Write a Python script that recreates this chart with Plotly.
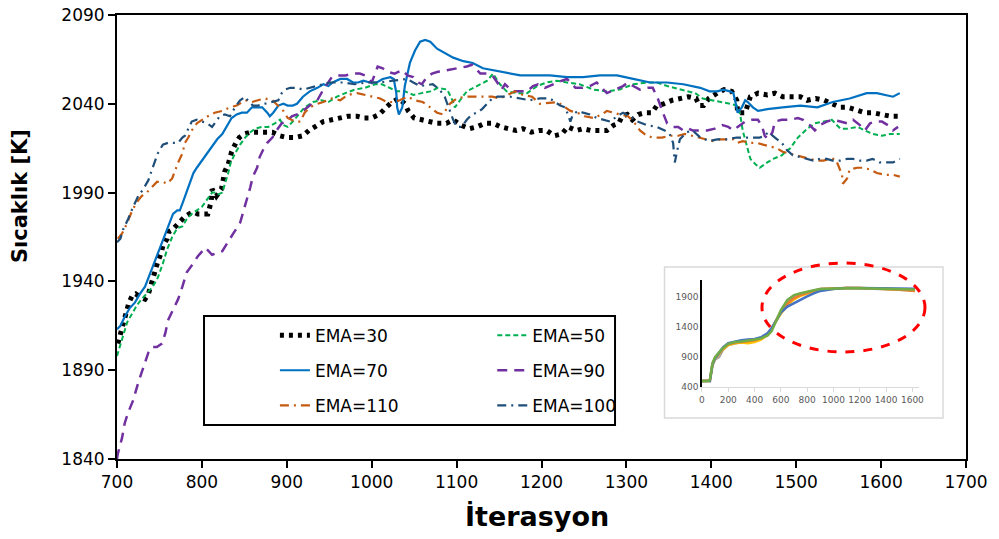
import plotly.graph_objects as go

# ---------------- main data ----------------
x30 = [701,704,708,712,714,718,722,728,733,737,740,742,746,748,752,754,759,761,765,769,774,779,785,790,795,801,807,811,812,817,823,825,827,831,833,835,840,844,850,857,865,874,883,892,900,910,919,926,934,943,953,963,972,983,991,1000,1009,1017,1024,1032,1039,1043,1050,1059,1068,1077,1088,1096,1105,1115,1124,1133,1143,1152,1161,1170,1178,1188,1197,1206,1215,1224,1231,1241,1249,1258,1268,1277,1285,1291,1295,1301,1307,1314,1322,1330,1336,1344,1354,1363,1373,1382,1386,1391,1397,1407,1415,1424,1430,1431,1436,1440,1446,1455,1466,1475,1484,1495,1505,1513,1523,1533,1543,1552,1561,1572,1581,1590,1601,1611,1621]
y30 = [1905,1910,1919,1924,1928,1932,1933,1931,1930,1933,1938,1942,1947,1951,1956,1960,1964,1968,1969,1971,1973,1976,1978,1979,1978,1978,1978,1985,1992,1988,1992,1997,2002,2006,2010,2013,2018,2021,2023,2024,2024,2024,2024,2022,2021,2021,2022,2025,2027,2030,2031,2032,2033,2033,2032,2032,2034,2038,2041,2043,2040,2036,2032,2031,2030,2029,2029,2031,2028,2026,2027,2029,2029,2027,2026,2025,2026,2024,2025,2025,2022,2023,2027,2025,2026,2025,2025,2025,2028,2029,2033,2034,2031,2034,2035,2035,2039,2040,2042,2043,2044,2043,2039,2039,2043,2046,2048,2047,2042,2035,2035,2035,2044,2046,2045,2046,2044,2044,2044,2042,2043,2042,2040,2038,2038,2036,2035,2035,2034,2033,2033]

x50 = [700,706,712,718,724,729,735,742,748,754,759,765,771,777,782,788,794,800,806,812,815,819,824,826,831,834,839,845,851,857,863,871,878,886,892,896,901,907,912,921,931,941,949,959,969,980,992,1004,1012,1022,1030,1039,1049,1059,1069,1078,1089,1095,1098,1104,1112,1124,1136,1143,1151,1159,1171,1183,1195,1206,1218,1230,1245,1261,1277,1292,1308,1324,1336,1348,1363,1381,1390,1402,1410,1422,1430,1434,1437,1442,1446,1452,1457,1466,1473,1483,1493,1502,1513,1522,1532,1542,1546,1552,1561,1572,1581,1590,1601,1611,1622]
y50 = [1898,1907,1917,1922,1927,1930,1933,1937,1942,1950,1958,1965,1970,1971,1975,1978,1980,1982,1986,1990,1990,1989,1990,1993,2001,2007,2012,2017,2021,2024,2026,2027,2027,2029,2031,2028,2027,2030,2033,2038,2041,2042,2041,2044,2046,2048,2049,2051,2051,2049,2047,2047,2045,2046,2047,2049,2048,2042,2038,2042,2047,2050,2053,2057,2051,2047,2046,2046,2050,2052,2053,2052,2051,2048,2047,2048,2051,2052,2052,2050,2048,2046,2043,2042,2041,2040,2039,2034,2025,2016,2009,2006,2004,2007,2009,2011,2015,2021,2026,2029,2030,2031,2029,2026,2026,2027,2025,2023,2022,2023,2023]

x70 = [700,704,709,715,721,727,733,737,741,745,748,751,757,762,766,771,774,778,782,786,790,794,800,806,812,818,824,830,835,841,847,853,859,865,871,877,880,884,890,896,901,907,912,919,927,936,943,949,954,963,971,978,984,990,998,1006,1013,1022,1026,1029,1030,1032,1036,1039,1045,1051,1057,1063,1069,1077,1084,1096,1108,1119,1131,1143,1155,1163,1175,1190,1210,1230,1249,1269,1289,1308,1328,1348,1367,1387,1398,1407,1414,1422,1426,1428,1430,1431,1436,1440,1443,1449,1455,1466,1484,1505,1525,1543,1563,1583,1595,1607,1614,1622]
y70 = [1913,1915,1920,1925,1928,1933,1937,1942,1947,1952,1956,1959,1967,1973,1978,1980,1980,1985,1990,1996,2001,2004,2008,2012,2016,2020,2023,2028,2032,2034,2035,2035,2038,2038,2038,2035,2033,2035,2039,2040,2039,2039,2040,2044,2047,2049,2051,2050,2052,2054,2054,2052,2052,2053,2052,2052,2054,2055,2054,2046,2038,2034,2038,2050,2063,2070,2075,2076,2075,2071,2069,2066,2064,2063,2060,2059,2058,2057,2056,2056,2056,2055,2055,2056,2056,2054,2052,2052,2051,2049,2047,2047,2048,2047,2046,2042,2038,2035,2038,2042,2041,2038,2036,2037,2038,2039,2038,2041,2043,2046,2046,2045,2044,2046]

x90 = [700,701,706,709,713,719,725,731,737,741,747,753,757,760,766,772,777,782,788,795,804,812,824,831,837,845,848,853,857,860,865,868,872,877,883,888,894,900,906,912,919,927,936,943,949,953,960,969,978,986,992,996,1000,1004,1007,1013,1019,1027,1036,1042,1049,1055,1059,1065,1071,1078,1089,1100,1112,1118,1122,1128,1136,1142,1148,1153,1157,1166,1175,1183,1190,1196,1204,1218,1224,1230,1234,1240,1248,1257,1265,1271,1277,1287,1296,1302,1308,1316,1325,1331,1337,1343,1348,1355,1361,1367,1373,1378,1387,1395,1404,1413,1420,1426,1431,1440,1448,1455,1460,1463,1467,1472,1475,1483,1493,1502,1508,1516,1522,1528,1536,1543,1552,1560,1567,1575,1581,1587,1593,1601,1608,1614,1620]
y90 = [1840,1843,1852,1860,1866,1873,1883,1892,1900,1903,1903,1905,1911,1918,1924,1930,1937,1945,1949,1954,1959,1955,1957,1962,1967,1973,1978,1985,1993,1999,2004,2010,2014,2018,2021,2025,2029,2030,2033,2034,2036,2039,2042,2048,2052,2055,2056,2056,2057,2057,2056,2054,2052,2057,2061,2060,2058,2057,2059,2056,2055,2052,2051,2055,2057,2058,2059,2060,2061,2062,2060,2057,2057,2056,2052,2048,2051,2047,2047,2047,2050,2051,2049,2052,2053,2054,2052,2049,2049,2050,2052,2049,2046,2048,2050,2052,2050,2048,2049,2049,2043,2035,2029,2027,2027,2025,2026,2025,2025,2025,2026,2028,2027,2025,2027,2030,2031,2031,2027,2022,2020,2024,2030,2031,2031,2032,2031,2028,2025,2028,2030,2031,2030,2029,2031,2028,2025,2029,2030,2030,2028,2025,2027]

x110 = [701,706,712,718,724,729,735,741,747,754,759,765,768,772,777,780,784,788,794,800,807,815,824,833,841,851,859,866,874,883,890,896,901,910,916,921,927,936,943,953,963,972,983,992,1002,1010,1018,1025,1033,1042,1051,1060,1069,1077,1084,1092,1100,1110,1122,1131,1142,1151,1161,1169,1178,1189,1198,1219,1228,1234,1242,1251,1261,1271,1277,1284,1292,1302,1310,1316,1324,1331,1342,1351,1361,1369,1377,1387,1395,1402,1410,1419,1426,1431,1437,1446,1454,1461,1469,1477,1484,1493,1501,1508,1516,1525,1532,1540,1546,1549,1554,1555,1560,1563,1572,1579,1587,1595,1605,1614,1622]
y110 = [1964,1967,1973,1980,1985,1988,1990,1993,1996,1996,1995,1998,2002,2007,2012,2018,2021,2025,2029,2031,2033,2035,2036,2038,2039,2042,2041,2042,2043,2042,2039,2036,2032,2030,2030,2035,2038,2040,2041,2043,2042,2045,2046,2045,2044,2043,2041,2041,2042,2044,2042,2041,2038,2035,2034,2040,2043,2044,2044,2044,2044,2043,2045,2047,2045,2044,2040,2041,2038,2036,2035,2033,2032,2034,2036,2035,2034,2033,2029,2025,2022,2021,2021,2022,2022,2023,2022,2021,2020,2019,2020,2020,2020,2018,2019,2018,2018,2017,2016,2015,2013,2012,2011,2010,2009,2008,2008,2009,2009,2006,2000,1995,1998,2003,2004,2004,2003,2001,2000,2000,1999]

x100 = [700,704,707,713,719,725,731,737,742,748,754,760,766,772,777,780,784,788,794,800,806,812,815,821,827,833,839,845,851,854,860,866,874,883,890,894,898,904,912,919,927,936,943,951,966,980,994,1010,1025,1042,1049,1057,1072,1080,1086,1092,1096,1100,1106,1112,1118,1124,1130,1136,1142,1148,1155,1163,1175,1186,1198,1210,1216,1222,1228,1231,1234,1237,1243,1249,1257,1265,1272,1281,1289,1296,1304,1313,1324,1336,1345,1351,1355,1357,1360,1363,1371,1378,1387,1398,1407,1419,1430,1442,1449,1457,1463,1467,1475,1483,1489,1496,1505,1513,1520,1528,1536,1543,1552,1560,1567,1575,1583,1590,1598,1607,1614,1622]
y100 = [1962,1964,1969,1975,1982,1988,1992,1997,2004,2012,2017,2018,2018,2018,2021,2022,2026,2030,2031,2030,2029,2027,2029,2033,2034,2033,2038,2042,2044,2042,2039,2039,2040,2041,2042,2046,2048,2049,2049,2048,2049,2050,2051,2052,2052,2051,2052,2052,2053,2054,2052,2050,2051,2048,2044,2036,2031,2027,2027,2031,2034,2035,2037,2040,2043,2044,2044,2044,2043,2042,2043,2043,2041,2039,2038,2034,2030,2034,2036,2035,2034,2032,2031,2030,2033,2035,2033,2030,2028,2027,2025,2023,2018,2007,2014,2020,2024,2025,2021,2019,2020,2020,2021,2021,2021,2021,2022,2024,2021,2018,2014,2011,2010,2009,2008,2009,2009,2008,2008,2009,2009,2008,2008,2009,2007,2007,2007,2009]

series_names = ["EMA=30", "EMA=50", "EMA=70", "EMA=90", "EMA=110", "EMA=100"]
x_title = "İterasyon"
y_title = "Sıcaklık [K]"

# ---------------- inset data ----------------
inset_x = [0,50,60,80,100,130,160,200,250,300,350,400,450,500,530,560,600,650,700,750,800,850,900,1000,1100,1200,1300,1400,1500,1620]
inset_gray = [500,500,500,760,860,900,1020,1100,1130,1150,1160,1170,1210,1280,1360,1490,1650,1800,1900,1950,1980,2010,2030,2040,2050,2045,2040,2030,2020,2010]
inset_yellow = [500,500,500,770,870,950,1030,1100,1130,1140,1130,1150,1190,1270,1360,1490,1620,1760,1860,1920,1960,1990,2020,2040,2050,2050,2040,2030,2020,2015]
inset_orange = [500,500,510,790,890,960,1040,1110,1140,1150,1160,1180,1220,1290,1370,1500,1660,1790,1880,1930,1970,2000,2030,2045,2050,2050,2045,2030,2020,2000]
inset_blue = [500,500,500,780,880,970,1060,1130,1160,1180,1190,1200,1230,1300,1380,1500,1640,1740,1800,1860,1910,1960,2000,2030,2050,2050,2045,2040,2040,2035]
inset_green = [500,500,520,800,900,980,1050,1120,1150,1160,1170,1190,1210,1260,1330,1480,1680,1850,1930,1960,1990,2010,2030,2040,2045,2045,2040,2030,2030,2025]
inset_ticks_y = [400, 900, 1400, 1900]
inset_ticks_x = [0, 200, 400, 600, 800, 1000, 1200, 1400, 1600]

FONT = "DejaVu Sans"

fig = go.Figure()

styles = [
    (x30, y30, "#000000", 5, "4px,5px", "legend"),
    (x50, y50, "#00B050", 2, "5px,3px", "legend2"),
    (x70, y70, "#0070C0", 2.2, "solid", "legend"),
    (x90, y90, "#7030A0", 2.5, "10px,7px", "legend2"),
    (x110, y110, "#C55A11", 2.2, "9px,5px,2px,5px", "legend"),
    (x100, y100, "#1F4E79", 2.2, "9px,5px,2px,5px", "legend2"),
]
for (xs, ys, col, w, dash, lg), name in zip(styles, series_names):
    fig.add_trace(go.Scatter(
        x=xs, y=ys, mode="lines", name=name,
        line=dict(color=col, width=w, dash=dash),
        legend=lg, legendgroup=name,
    ))

inset_cols = ["#A5A5A5", "#FFC000", "#ED7D31", "#4472C4", "#70AD47"]
for ys, col in zip([inset_gray, inset_yellow, inset_orange, inset_blue, inset_green], inset_cols):
    fig.add_trace(go.Scatter(
        x=inset_x, y=ys, mode="lines", xaxis="x2", yaxis="y2",
        line=dict(color=col, width=2.5), showlegend=False, hoverinfo="skip",
    ))

legend_common = dict(
    bgcolor="rgba(0,0,0,0)", borderwidth=0,
    font=dict(family=FONT, size=17, color="#000000"),
    orientation="v", xanchor="left", yanchor="top", tracegroupgap=10,
)

fig.update_layout(
    width=999, height=539,
    margin=dict(l=117, r=33, t=15, b=80, autoexpand=False),
    paper_bgcolor="white", plot_bgcolor="white",
    font=dict(family=FONT, color="#000000"),
    legend=dict(x=0.186, y=0.3185, **legend_common),
    legend2=dict(x=0.442, y=0.3185, **legend_common),
    xaxis=dict(
        range=[700, 1700], dtick=100, tick0=700, automargin=False,
        showline=True, linecolor="#000000", linewidth=2, mirror=True,
        ticks="outside", ticklen=7, tickwidth=2, tickcolor="#000000",
        showgrid=False, zeroline=False, ticklabeloverflow="allow",
        tickfont=dict(family=FONT, size=17, color="#000000"),
    ),
    yaxis=dict(
        range=[1840, 2090], dtick=50, tick0=1840, automargin=False,
        showline=True, linecolor="#000000", linewidth=2, mirror=True,
        ticks="outside", ticklen=7, tickwidth=2, tickcolor="#000000",
        showgrid=False, zeroline=False, ticklabeloverflow="allow",
        tickfont=dict(family=FONT, size=17, color="#000000"),
    ),
    xaxis2=dict(
        domain=[0.689, 0.9446], anchor="y2", range=[0, 1650], automargin=False,
        tickvals=inset_ticks_x, showline=True, linecolor="#D9D9D9", linewidth=1,
        ticks="outside", ticklen=4, tickcolor="#D9D9D9",
        showgrid=False, zeroline=False,
        tickfont=dict(family=FONT, size=9, color="#595959"),
    ),
    yaxis2=dict(
        domain=[0.162, 0.403], anchor="x2", range=[400, 2180], automargin=False,
        tickvals=inset_ticks_y, showline=True, linecolor="#000000", linewidth=1.5,
        ticks="", showgrid=False, zeroline=False,
        tickfont=dict(family=FONT, size=9, color="#595959"),
    ),
    annotations=[
        dict(text="<b>" + x_title + "</b>", xref="paper", yref="paper", x=0.4947, y=-0.1306,
             xanchor="center", yanchor="middle", showarrow=False,
             font=dict(family=FONT, size=27, color="#000000")),
        dict(text="<b>" + y_title + "</b>", xref="paper", yref="paper", x=-0.1143, y=0.592,
             xanchor="center", yanchor="middle", showarrow=False, textangle=-90,
             font=dict(family=FONT, size=21, color="#000000")),
    ],
    shapes=[
        # legend frame
        dict(type="rect", xref="paper", yref="paper", x0=0.1025, x1=0.5866, y0=0.0766, y1=0.322,
             line=dict(color="#000000", width=2), fillcolor="rgba(0,0,0,0)", layer="above"),
        # inset frame
        dict(type="rect", xref="paper", yref="paper", x0=0.6449, x1=0.9729, y0=0.0923, y1=0.4324,
             line=dict(color="#D9D9D9", width=1.5), fillcolor="rgba(0,0,0,0)", layer="below"),
        # red dashed ellipse
        dict(type="circle", xref="paper", yref="paper", x0=0.7597, x1=0.9517, y0=0.241, y1=0.4414,
             line=dict(color="#FF0000", width=3, dash="dash"), layer="above"),
    ],
)

fig.write_html("out.html", config={"displayModeBar": False},
               post_script="document.body.style.margin='0px';")
